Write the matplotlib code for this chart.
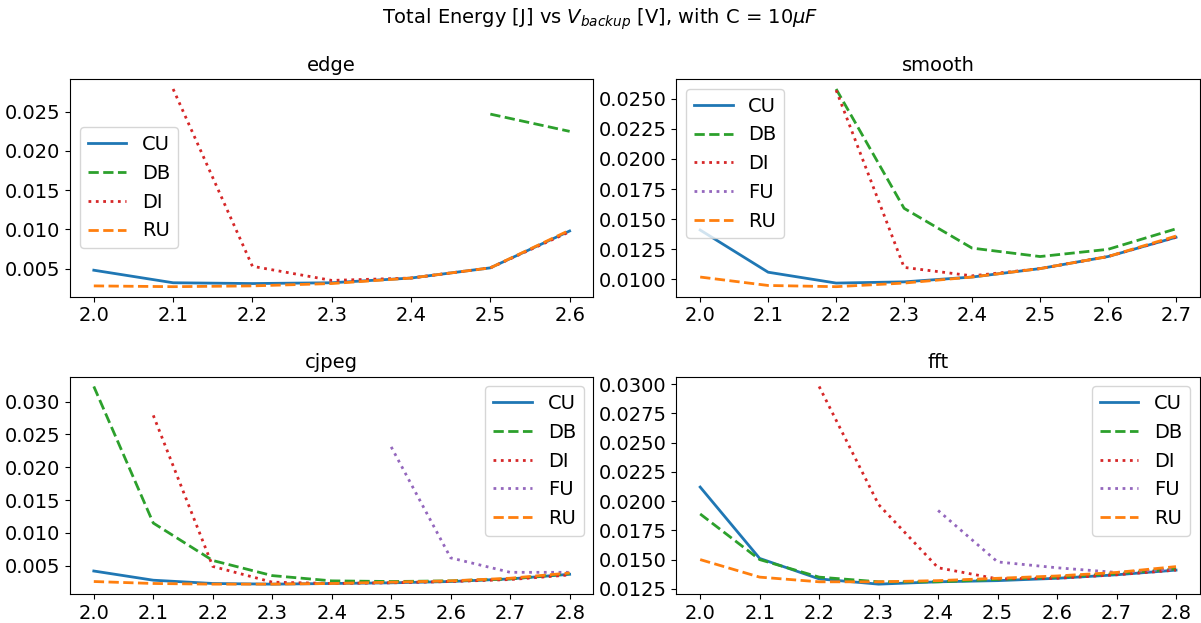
import matplotlib
matplotlib.use("Agg")
import matplotlib.pyplot as plt
from matplotlib.ticker import MultipleLocator
import numpy as np

nan = np.nan

# V_backup values per benchmark
v_edge = [2.0, 2.1, 2.2, 2.3, 2.4, 2.5, 2.6]
v_smooth = [2.0, 2.1, 2.2, 2.3, 2.4, 2.5, 2.6, 2.7]
v_long = [2.0, 2.1, 2.2, 2.3, 2.4, 2.5, 2.6, 2.7, 2.8]

# edge
edge_cu = [0.0048, 0.0032, 0.0031, 0.0032, 0.0038, 0.0051, 0.0098]
edge_db = [nan, nan, nan, nan, nan, 0.0247, 0.0225]
edge_di = [nan, 0.0279, 0.0053, 0.0035, 0.0038, 0.0051, 0.0097]
edge_ru = [0.0028, 0.0027, 0.0028, 0.0031, 0.0038, 0.0051, 0.0099]

# smooth
smooth_cu = [0.0141, 0.0106, 0.0097, 0.0098, 0.0102, 0.0109, 0.0119, 0.0135]
smooth_db = [nan, nan, 0.0258, 0.0159, 0.0126, 0.0119, 0.0125, 0.0142]
smooth_di = [nan, nan, 0.0257, 0.0110, 0.0103, 0.0109, 0.0119, 0.0135]
smooth_fu = [nan] * 8
smooth_ru = [0.0102, 0.0095, 0.0094, 0.0097, 0.0102, 0.0109, 0.0119, 0.0136]

# cjpeg
cjpeg_cu = [0.0042, 0.0028, 0.0023, 0.0022, 0.0023, 0.0024, 0.0026, 0.0030, 0.0037]
cjpeg_db = [0.0323, 0.0115, 0.0058, 0.0035, 0.0027, 0.0026, 0.0027, 0.0030, 0.0038]
cjpeg_di = [nan, 0.0279, 0.0049, 0.0025, 0.0023, 0.0024, 0.0026, 0.0029, 0.0036]
cjpeg_fu = [nan, nan, nan, nan, nan, 0.0231, 0.0062, 0.0040, 0.0040]
cjpeg_ru = [0.0026, 0.0023, 0.0022, 0.0022, 0.0023, 0.0025, 0.0027, 0.0031, 0.0039]

# fft
fft_cu = [0.0212, 0.0151, 0.01335, 0.0129, 0.0131, 0.0132, 0.0134, 0.0137, 0.0141]
fft_db = [0.0189, 0.0150, 0.0135, 0.0131, 0.0131, 0.0133, 0.0135, 0.0138, 0.0142]
fft_di = [nan, nan, 0.0298, 0.0197, 0.0143, 0.01335, 0.0134, 0.0137, 0.0141]
fft_fu = [nan, nan, nan, nan, 0.0192, 0.0148, 0.0143, 0.0139, 0.0142]
fft_ru = [0.0150, 0.0135, 0.0131, 0.0131, 0.0132, 0.0134, 0.0136, 0.0139, 0.0144]

styles = {
    'CU': dict(color='tab:blue', linestyle='-'),
    'DB': dict(color='tab:green', linestyle='--'),
    'DI': dict(color='tab:red', linestyle=':'),
    'FU': dict(color='tab:purple', linestyle=':'),
    'RU': dict(color='tab:orange', linestyle='--'),
}

# (title, x values, series, legend location, y tick step)
panels = [
    ('edge', v_edge, {'CU': edge_cu, 'DB': edge_db, 'DI': edge_di, 'RU': edge_ru},
     'center left', 0.005),
    ('smooth', v_smooth, {'CU': smooth_cu, 'DB': smooth_db, 'DI': smooth_di,
                          'FU': smooth_fu, 'RU': smooth_ru}, 'upper left', 0.0025),
    ('cjpeg', v_long, {'CU': cjpeg_cu, 'DB': cjpeg_db, 'DI': cjpeg_di,
                       'FU': cjpeg_fu, 'RU': cjpeg_ru}, 'upper right', 0.005),
    ('fft', v_long, {'CU': fft_cu, 'DB': fft_db, 'DI': fft_di,
                     'FU': fft_fu, 'RU': fft_ru}, 'upper right', 0.0025),
]

plt.rcParams['font.size'] = 14

fig, axes = plt.subplots(2, 2, figsize=(12.01, 6.23), dpi=100)
for ax, (name, v, series, loc, step) in zip(axes.flat, panels):
    for label, vals in series.items():
        ax.plot(v, vals, label=label, linewidth=2, **styles[label])
    ax.set_title(name, fontsize=14)
    ax.set_xticks(v)
    ax.yaxis.set_major_locator(MultipleLocator(step))
    ax.tick_params(labelsize=14)
    ax.legend(loc=loc, fontsize=14)

fig.suptitle(r'Total Energy [J] vs $V_{backup}$ [V], with C = 10$\mu F$', fontsize=14, y=0.99)
fig.subplots_adjust(left=0.0583, right=0.999, top=0.873, bottom=0.0465, hspace=0.368, wspace=0.1585)
fig.savefig('out.png')
